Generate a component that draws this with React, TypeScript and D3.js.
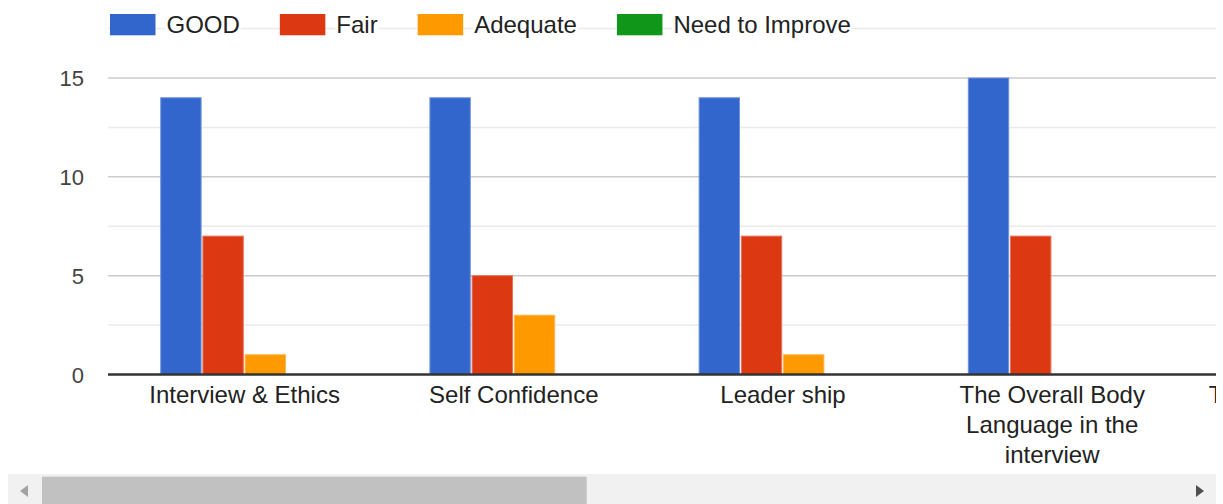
import React from "react";
import * as d3 from "d3";

const categories = [
  "Interview & Ethics",
  "Self Confidence",
  "Leader ship",
  "The Overall Body Language in the interview",
  "Technical Knowledge",
];
const seriesNames = ["GOOD", "Fair", "Adequate", "Need to Improve"];
const good = [14, 14, 14, 15, 14];
const fair = [7, 5, 7, 7, 7];
const adequate = [1, 3, 1, 0, 1];
const needToImprove = [0, 0, 0, 0, 0];
const seriesColors = ["#3366cc", "#dc3912", "#ff9900", "#109618"];
const yTicks = [0, 5, 10, 15];
const yMinorTicks = [2.5, 7.5, 12.5, 17.5];

const FONT = "Arial, 'Liberation Sans', sans-serif";

let ctx: CanvasRenderingContext2D | null = null;
function measure(text: string, size: number): number {
  if (!ctx) {
    const c = document.createElement("canvas");
    ctx = c.getContext("2d");
  }
  if (!ctx) return text.length * size * 0.5;
  ctx.font = `${size}px ${FONT}`;
  return ctx.measureText(text).width;
}

function wrap(text: string, size: number, maxW: number): string[] {
  const words = text.split(" ");
  const lines: string[] = [];
  let cur = "";
  for (const w of words) {
    const t = cur ? cur + " " + w : w;
    if (cur && measure(t, size) > maxW) {
      lines.push(cur);
      cur = w;
    } else cur = t;
  }
  if (cur) lines.push(cur);
  return lines;
}

export default function App() {
  const W = 1223;
  const H = 504;
  const left = 110;
  const step = 269.2;
  const clipRight = 1216;
  const values = [good, fair, adequate, needToImprove];

  const y = d3.scaleLinear().domain([0, 15]).range([374.5, 78]);
  const x0 = d3
    .scaleBand<string>()
    .domain(categories)
    .range([left, left + step * categories.length])
    .paddingInner(0.373)
    .paddingOuter(0.1865);
  const x1 = d3
    .scaleBand<string>()
    .domain(seriesNames)
    .range([0, x0.bandwidth()]);

  // legend layout
  const legendItems: { x: number; tx: number; tw: number; name: string; color: string }[] = [];
  let lx = 110;
  seriesNames.forEach((name, i) => {
    const tw = measure(name, 24);
    legendItems.push({ x: lx, tx: lx + 56.5, tw, name, color: seriesColors[i] });
    lx = lx + 56.5 + tw + 40;
  });

  return (
    <svg
      width={W}
      height={H}
      style={{ position: "absolute", left: 0, top: 0, fontFamily: FONT }}
    >
      <defs>
        <clipPath id="chartClip">
          <rect x={0} y={0} width={clipRight} height={474} />
        </clipPath>
      </defs>
      <rect x={0} y={0} width={W} height={H} fill="#fff" />
      <g clipPath="url(#chartClip)">
        {yMinorTicks.map((t) => (
          <line
            key={"mi" + t}
            x1={108}
            x2={clipRight}
            y1={y(t)}
            y2={y(t)}
            stroke="#ebebeb"
            strokeWidth={1.5}
          />
        ))}
        {yTicks
          .filter((t) => t !== 0)
          .map((t) => (
            <line
              key={"ma" + t}
              x1={108}
              x2={clipRight}
              y1={y(t)}
              y2={y(t)}
              stroke="#cccccc"
              strokeWidth={1.5}
            />
          ))}
        {yTicks.map((t) => (
          <text
            key={"tl" + t}
            x={84}
            y={y(t) + 8}
            textAnchor="end"
            fontSize={22}
            fill="#444"
          >
            {t}
          </text>
        ))}
        {/* legend */}
        {legendItems.map((it) => (
          <g key={it.name}>
            <rect x={it.tx - 1} y={18} width={it.tw + 2} height={18} fill="#fff" />
            <rect x={it.x} y={14} width={45.5} height={21.3} fill={it.color} />
            <text x={it.tx} y={33.3} fontSize={24} fill="#222">
              {it.name}
            </text>
          </g>
        ))}
        {/* bars */}
        {categories.map((c, ci) => (
          <g key={c} transform={`translate(${x0(c)},0)`}>
            {seriesNames.map((s, si) => {
              const v = values[si][ci];
              if (!v) return null;
              const col = seriesColors[si];
              const light = d3.interpolateRgb(col, "#ffffff")(0.3);
              return (
                <rect
                  key={s}
                  x={(x1(s) || 0) + 0.5}
                  y={y(v)}
                  width={x1.bandwidth() - 1.8}
                  height={y(0) - y(v)}
                  fill={col}
                  stroke={light}
                  strokeWidth={1}
                />
              );
            })}
          </g>
        ))}
        {/* baseline */}
        <line
          x1={108}
          x2={clipRight}
          y1={y(0)}
          y2={y(0)}
          stroke="#333333"
          strokeWidth={2.6}
        />
        {/* category labels */}
        {categories.map((c) => {
          const cx = (x0(c) || 0) + x0.bandwidth() / 2;
          const lines = wrap(c, 24, 240);
          return (
            <text key={"cl" + c} x={cx} textAnchor="middle" fontSize={24} fill="#222">
              {lines.map((ln, i) => (
                <tspan key={i} x={cx} y={403 + i * 30}>
                  {ln}
                </tspan>
              ))}
            </text>
          );
        })}
      </g>
      {/* scrollbar */}
      <rect x={8} y={474} width={clipRight - 8} height={30} fill="#f1f1f1" />
      <rect x={42} y={476.7} width={544.7} height={27.3} fill="#c1c1c1" />
      <path d="M28,485 L20,491 L28,497 Z" fill="#a3a3a3" />
      <path d="M1196,485 L1204,491 L1196,497 Z" fill="#505050" />
    </svg>
  );
}
